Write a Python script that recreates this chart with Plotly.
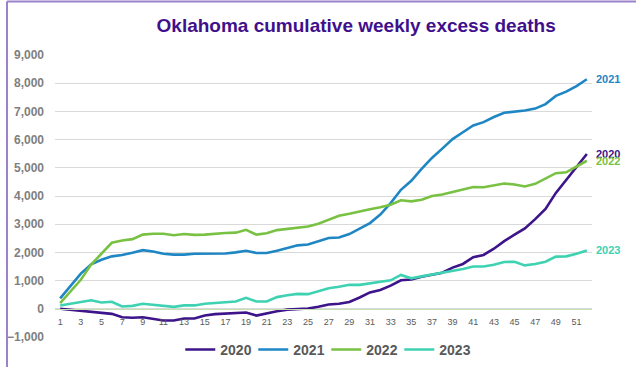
import plotly.graph_objects as go

weeks = list(range(1, 53))
tick_weeks = list(range(1, 52, 2))
series_names = ["2020", "2021", "2022", "2023"]

deaths_2020 = [0, -35, -50, -95, -140, -180, -300, -320, -300, -370, -415, -415, -345, -345,
               -240, -190, -165, -165, -130, -240, -155, -85, -30, 0, 10, 70, 150, 180, 240,
               400, 580, 670, 820, 1010, 1040, 1140, 1220, 1280, 1460, 1590, 1830, 1910, 2130,
               2400, 2630, 2850, 3180, 3540, 4110, 4580, 5020, 5490]
deaths_2021 = [370, 820, 1250, 1580, 1740, 1860, 1910, 1990, 2080, 2030, 1950, 1920, 1920, 1950,
               1960, 1970, 1960, 2000, 2060, 1980, 1980, 2060, 2160, 2250, 2280, 2390, 2510, 2530,
               2650, 2840, 3040, 3340, 3750, 4220, 4540, 4960, 5350, 5680, 6020, 6260, 6500, 6620,
               6800, 6950, 6990, 7030, 7100, 7260, 7550, 7700, 7900, 8140]
deaths_2022 = [200, 620, 1030, 1570, 1960, 2340, 2420, 2470, 2630, 2660, 2660, 2610, 2650, 2620,
               2630, 2670, 2690, 2700, 2800, 2630, 2680, 2790, 2840, 2890, 2920, 3020, 3160, 3300,
               3370, 3460, 3530, 3600, 3690, 3850, 3810, 3870, 4000, 4050, 4140, 4220, 4320, 4310,
               4370, 4440, 4410, 4340, 4430, 4620, 4810, 4840, 5030, 5250]
deaths_2023 = [120, 180, 225, 300, 225, 250, 80, 105, 180, 140, 105, 70, 120, 120, 180, 215, 250,
               260, 390, 260, 260, 415, 480, 530, 520, 630, 730, 780, 850, 850, 910, 970, 1010,
               1200, 1080, 1150, 1210, 1270, 1340, 1410, 1500, 1500, 1560, 1660, 1670, 1540, 1590,
               1670, 1850, 1860, 1950, 2070]

all_series = [deaths_2020, deaths_2021, deaths_2022, deaths_2023]
colors = ["#3D1489", "#1F86C4", "#79C143", "#3ED2B2"]

fig = go.Figure()
for name, vals, col in zip(series_names, all_series, colors):
    fig.add_trace(go.Scatter(x=weeks, y=vals, mode="lines", name=name,
                             line=dict(color=col, width=2.6)))
    fig.add_annotation(x=weeks[-1], y=vals[-1], text=f"<b>{name}</b>", showarrow=False,
                       xanchor="left", yanchor="middle", xshift=7,
                       font=dict(family="Liberation Sans, Arial", size=11, color=col))

font_fam = "Liberation Sans, Arial"
fig.update_layout(
    width=636, height=367,
    margin=dict(l=55, r=44, t=55, b=30, autoexpand=False),
    paper_bgcolor="white", plot_bgcolor="white",
    title=dict(text="<b>Oklahoma cumulative weekly excess deaths</b>",
               x=0.56, xref="container", xanchor="center",
               y=1 - 25 / 367, yref="container", yanchor="middle",
               font=dict(family=font_fam, size=19, color="#3F108C")),
    showlegend=True,
    legend=dict(orientation="h", x=0.513, xanchor="center", xref="container",
                y=-0.046, yanchor="middle",
                font=dict(family=font_fam, size=14, color="#595959", weight="bold"),
                bgcolor="rgba(0,0,0,0)", itemwidth=30, entrywidth=28, tracegroupgap=0),
    xaxis=dict(range=[0.5, 52.5], tickvals=tick_weeks, ticktext=[str(w) for w in tick_weeks],
               showgrid=False, zeroline=False, showline=True, linecolor="#C5E0B0", linewidth=1,
               anchor="free", position=0.1, ticks="", ticklabelstandoff=4,
               tickfont=dict(family=font_fam, size=9, color="#595959")),
    yaxis=dict(range=[-1000, 9000], dtick=1000, tickformat=",d", showgrid=True,
               gridcolor="#D9D9D9", gridwidth=1, zeroline=False, showline=False,
               ticks="", ticklabelstandoff=10,
               tickfont=dict(family=font_fam, size=12, color="#7F7F7F", weight="bold")),
    shapes=[
        dict(type="line", xref="paper", yref="paper", x0=-0.0894, x1=-0.0894, y0=-0.2, y1=1.19,
             line=dict(color="#9B82CB", width=2)),
        dict(type="line", xref="paper", yref="paper", x0=-0.0894, x1=1.2, y0=1.19, y1=1.19,
             line=dict(color="#9B82CB", width=2)),
    ],
)

fig.write_html("out.html", config={"displayModeBar": False},
               post_script="document.body.style.margin='0';document.body.style.overflow='hidden';")
